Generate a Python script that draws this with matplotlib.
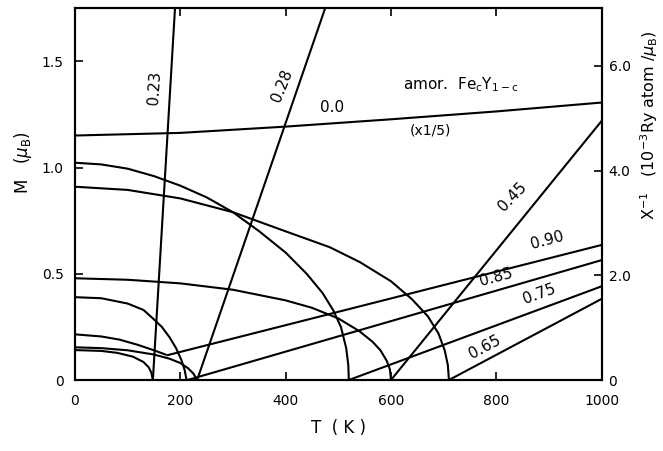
import matplotlib
matplotlib.use("Agg")
import matplotlib.pyplot as plt

plt.rcParams['font.family'] = ['DejaVu Sans']
plt.rcParams['mathtext.fontset'] = 'dejavusans'

# Magnetization M(T) in muB per atom, keyed by Fe concentration c
mag_T = {
    "0.23": [0, 50, 80, 110, 130, 140, 145, 148],
    "0.28": [0, 50, 100, 150, 180, 200, 215, 225, 232],
    "0.45": [0, 100, 200, 300, 400, 450, 500, 540, 565, 580, 592, 598, 600],
    "0.65": [0, 100, 200, 300, 400, 484, 541, 600, 640, 670, 690, 702, 708, 710],
    "0.75": [0, 50, 100, 150, 200, 250, 300, 350, 400, 440, 470, 490, 505, 515, 519, 520],
    "0.85": [0, 50, 100, 130, 148, 165, 180, 192, 202, 208, 212],
    "0.90": [0, 50, 85, 120, 150, 174],
}
mag_M = {
    "0.23": [0.141, 0.137, 0.128, 0.11, 0.085, 0.06, 0.035, 0.0],
    "0.28": [0.154, 0.15, 0.14, 0.12, 0.10, 0.08, 0.055, 0.03, 0.0],
    "0.45": [0.479, 0.472, 0.455, 0.425, 0.375, 0.34, 0.29, 0.23, 0.18, 0.14, 0.09, 0.05, 0.0],
    "0.65": [0.91, 0.895, 0.855, 0.79, 0.70, 0.625, 0.555, 0.465, 0.38, 0.30, 0.22, 0.14, 0.07, 0.0],
    "0.75": [1.023, 1.015, 0.995, 0.96, 0.915, 0.86, 0.79, 0.70, 0.60, 0.50, 0.41, 0.33, 0.25,
             0.15, 0.07, 0.0],
    "0.85": [0.39, 0.385, 0.36, 0.33, 0.29, 0.25, 0.20, 0.15, 0.095, 0.05, 0.0],
    "0.90": [0.215, 0.205, 0.19, 0.165, 0.14, 0.118],
}

# Inverse susceptibility (10^-3 Ry atom / muB) above Tc
chi_T = {
    "0.0": [0, 200, 400, 600, 800, 1000],
    "0.23": [148, 190],
    "0.28": [232, 475],
    "0.45": [600, 1000],
    "0.65": [710, 1000],
    "0.75": [520, 1000],
    "0.85": [214, 1000],
    "0.90": [174, 1000],
}
chi_inv = {
    "0.0": [4.67, 4.72, 4.84, 4.98, 5.13, 5.30],
    "0.23": [0.0, 7.1],
    "0.28": [0.0, 7.1],
    "0.45": [0.0, 4.95],
    "0.65": [0.0, 1.55],
    "0.75": [0.0, 1.79],
    "0.85": [0.0, 2.29],
    "0.90": [0.47, 2.58],
}

fig = plt.figure(figsize=(6.63, 4.51), dpi=100)
ax = fig.add_axes([0.113, 0.1574, 0.7945, 0.8242])
ax2 = ax.twinx()

lw = 1.5
for c in mag_T:
    ax.plot(mag_T[c], mag_M[c], color="k", lw=lw, solid_capstyle="butt")
for c in chi_T:
    ax2.plot(chi_T[c], chi_inv[c], color="k", lw=lw, solid_capstyle="butt")

ax.set_xlim(0, 1000)
ax.set_ylim(0, 1.75)
ax2.set_ylim(0, 7.1)

ax.set_xticks([0, 200, 400, 600, 800, 1000])
ax.set_yticks([0, 0.5, 1.0, 1.5])
ax.set_yticklabels(["0", "0.5", "1.0", "1.5"])
ax2.set_yticks([0, 2, 4, 6])
ax2.set_yticklabels(["0", "2.0", "4.0", "6.0"])

ax.tick_params(axis="x", which="both", direction="in", top=True, length=6, width=1.2,
               pad=10, labelsize=10)
ax.tick_params(axis="y", direction="in", length=6, width=1.2, pad=8, labelsize=10)
ax2.tick_params(axis="y", direction="in", length=6, width=1.2, pad=5, labelsize=10)
for a in (ax, ax2):
    for s in a.spines.values():
        s.set_linewidth(1.5)

ax.set_xlabel("T  ( K )", fontsize=12, labelpad=8)
ax.set_ylabel(r"M   ($\mu_{\rm B}$)", fontsize=12)
ax.yaxis.set_label_coords(-0.078, 0.584)
ax2.set_ylabel(r"X$^{-1}$   (10$^{-3}$Ry atom /$\mu_{\rm B}$)", fontsize=11.5)
ax2.yaxis.set_label_coords(1.07, 0.686)

# curve labels
fs = 11
ax.text(152, 1.375, "0.23", rotation=86, ha="center", va="center", fontsize=fs)
ax.text(393, 1.384, "0.28", rotation=68, ha="center", va="center", fontsize=fs)
ax.text(488, 1.285, "0.0", ha="center", va="center", fontsize=fs)
ax.text(674, 1.177, "(x1/5)", ha="center", va="center", fontsize=10)
ax.text(733, 1.389, r"amor.  Fe$_{\rm c}$Y$_{\rm 1-c}$", ha="center", va="center", fontsize=11)
ax.text(830, 0.865, "0.45", rotation=46, ha="center", va="center", fontsize=fs)
ax.text(896, 0.66, "0.90", rotation=15, ha="center", va="center", fontsize=fs)
ax.text(800, 0.485, "0.85", rotation=15, ha="center", va="center", fontsize=fs)
ax.text(881, 0.405, "0.75", rotation=20, ha="center", va="center", fontsize=fs)
ax.text(779, 0.155, "0.65", rotation=28, ha="center", va="center", fontsize=fs)

fig.savefig("out.png", dpi=100)
